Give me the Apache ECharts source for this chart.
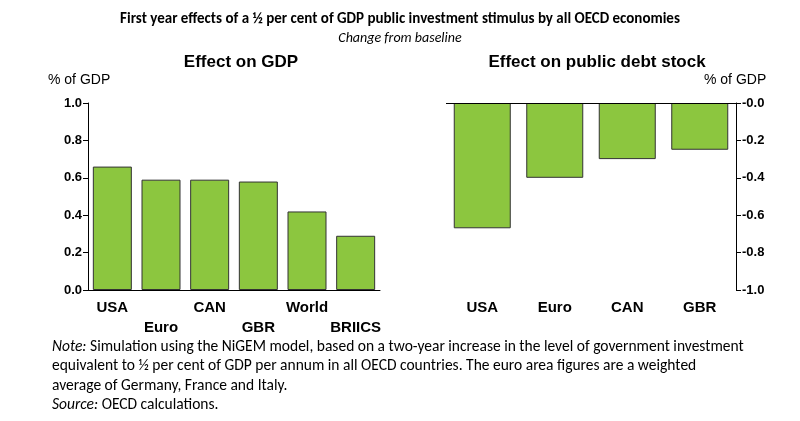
<!DOCTYPE html>
<html><head><meta charset="utf-8">
<script src="https://cdn.jsdelivr.net/npm/echarts@6/dist/echarts.min.js"></script>
<style>html,body{margin:0;background:#fff}#c{width:800px;height:421px}</style>
</head><body><div id="c"></div>
<script>
var gdpCats = ['USA','Euro','CAN','GBR','World','BRIICS'];
var gdpVals = [0.66, 0.59, 0.59, 0.58, 0.42, 0.29];
var debtCats = ['USA','Euro','CAN','GBR'];
var debtVals = [-0.67, -0.40, -0.30, -0.25];

var F = 'Calibri, Carlito, "Open Sans", Arial, sans-serif';
var bar = {color:'#8cc63f', borderColor:'#333', borderWidth:1};
var chart = echarts.init(document.getElementById('c'));
chart.setOption({
  animation:false,
  textStyle:{fontFamily:F},
  title:[
    {text:'First year effects of a ½ per cent of GDP public investment stimulus by all OECD economies', left:'center', top:7, textStyle:{fontSize:15, fontWeight:'bold', color:'#000', fontFamily:F}},
    {text:'Change from baseline', left:'center', top:26, textStyle:{fontSize:14, fontStyle:'italic', fontWeight:'normal', color:'#000', fontFamily:F}},
    {text:'Effect on GDP', left:236, top:49, textAlign:'center', textStyle:{fontSize:17, fontWeight:'bold', color:'#000', fontFamily:'Arial'}},
    {text:'Effect on public debt stock', left:592, top:49, textAlign:'center', textStyle:{fontSize:17, fontWeight:'bold', color:'#000', fontFamily:'Arial'}}
  ],
  graphic:[
    {type:'text', left:48, top:73, style:{text:'% of GDP', font:'14px Arial', fill:'#000'}},
    {type:'text', left:704, top:73, style:{text:'% of GDP', font:'14px Arial', fill:'#000'}},
    {type:'text', left:52, top:337, style:{rich:{i:{fontStyle:'italic', fontSize:15.5, fontFamily:F}, n:{fontSize:15.5, fontFamily:F}}, lineHeight:19.5,
      text:'{i|Note:}{n| Simulation using the NiGEM model, based on a two-year increase in the level of government investment}\n{n|equivalent to ½ per cent of GDP per annum in all OECD countries. The euro area figures are a weighted}\n{n|average of Germany, France and Italy.}\n{i|Source:}{n| OECD calculations.}', fill:'#000'}}
  ],
  grid:[
    {left:88, top:103, width:292, height:187},
    {left:446, top:103, width:290, height:187}
  ],
  xAxis:[
    {type:'category', gridIndex:0, data:gdpCats, axisTick:{show:false}, axisLine:{lineStyle:{color:'#000'}},
     axisLabel:{interval:0, color:'#000', fontSize:15, fontWeight:'bold', fontFamily:'Arial', lineHeight:20,
       formatter:function(v,i){return i%2 ? '\n'+v : v;}}},
    {type:'category', gridIndex:1, data:debtCats, position:'bottom', axisTick:{show:false}, axisLine:{show:false},
     axisLabel:{interval:0, color:'#000', fontSize:15, fontWeight:'bold', fontFamily:'Arial', lineHeight:20}}
  ],
  yAxis:[
    {type:'value', gridIndex:0, min:0, max:1, interval:0.2, splitLine:{show:false},
     axisLine:{show:true, lineStyle:{color:'#000'}}, axisTick:{show:true, length:5},
     axisLabel:{color:'#000', fontSize:13, fontWeight:'bold', fontFamily:'Arial', margin:6, formatter:function(v){return v.toFixed(1);}}},
    {type:'value', gridIndex:1, min:-1, max:0, interval:0.2, position:'right', splitLine:{show:false},
     axisLine:{show:true, lineStyle:{color:'#000'}}, axisTick:{show:true, length:5},
     axisLabel:{color:'#000', fontSize:13, fontWeight:'bold', fontFamily:'Arial', margin:6, formatter:function(v){return v===0?'-0.0':v.toFixed(1);}}}
  ],
  series:[
    {type:'bar', xAxisIndex:0, yAxisIndex:0, data:gdpVals, barWidth:39, itemStyle:bar},
    {type:'bar', xAxisIndex:1, yAxisIndex:1, data:debtVals, barWidth:57, itemStyle:bar,
     markLine:{silent:true, symbol:'none', label:{show:false}, lineStyle:{color:'#000', type:'solid', width:1}, data:[{yAxis:0}]}}
  ]
});
</script></body></html>
